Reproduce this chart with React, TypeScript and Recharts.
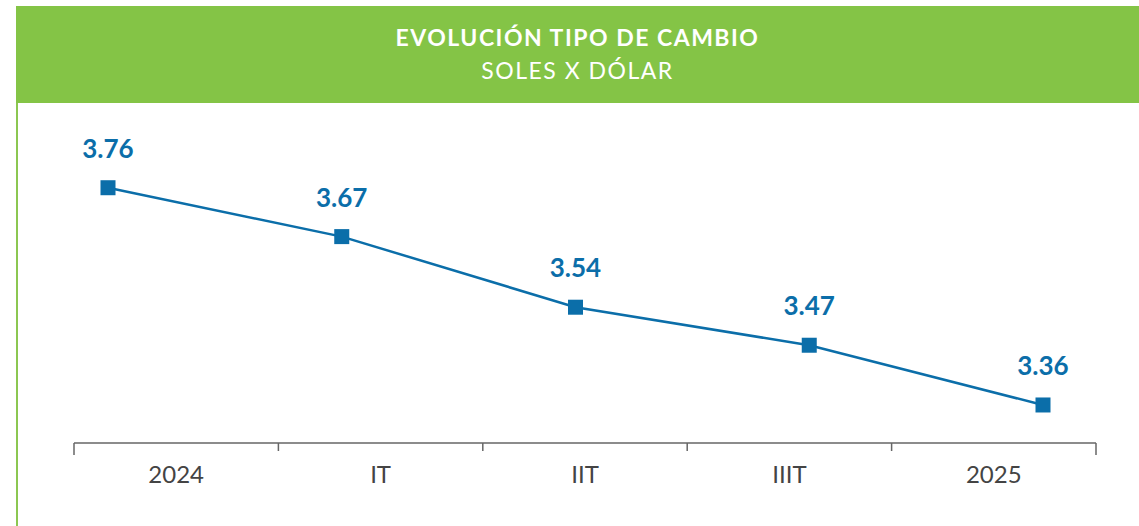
import { LineChart, Line, XAxis, YAxis, LabelList } from "recharts";

const categories = ["2024", "IT", "IIT", "IIIT", "2025"];
const exchangeRate = [3.76, 3.67, 3.54, 3.47, 3.36];
const bandEdges = [0, 1, 2, 3, 4, 5];

const chartData = categories.map((name, i) => ({
  name,
  idx: i,
  rate: exchangeRate[i],
}));

const BLUE = "#0b6ea9";
const GREEN = "#84c446";

const SquareDot = (props: any) => {
  const { cx, cy } = props;
  if (cx == null || cy == null) return null;
  return <rect x={cx - 7.5} y={cy - 7.5} width={15} height={15} fill={BLUE} />;
};

const BandTick = (props: any) => {
  const { x, y, payload, index } = props;
  const isEnd = index === 0 || index === bandEdges.length - 1;
  const label = categories[payload.value];
  // band width in px
  const bandW = props.width / (bandEdges.length - 1);
  return (
    <g>
      <line x1={x} y1={y - 8} x2={x} y2={y - 8 + (isEnd ? 12 : 8)} stroke="#666" strokeWidth={1.5} />
      {label && (
        <text
          x={x + bandW / 2}
          y={y + 32}
          textAnchor="middle"
          fill="#444"
          fontSize={24}
          fontFamily="Lato, sans-serif"
        >
          {label}
        </text>
      )}
    </g>
  );
};

const App = () => {
  return (
    <div
      style={{
        position: "absolute",
        left: 0,
        top: 0,
        width: 1139,
        height: 526,
        background: "#fff",
        overflow: "hidden",
        fontFamily: "Lato, sans-serif",
      }}
    >
      <div
        style={{
          position: "absolute",
          left: 16,
          top: 6,
          width: 1123,
          height: 97,
          background: GREEN,
          color: "#fff",
          textAlign: "center",
        }}
      >
        <div style={{ marginTop: 18, fontSize: 23, fontWeight: 700, lineHeight: "26px", letterSpacing: 1.5 }}>
          EVOLUCIÓN TIPO DE CAMBIO
        </div>
        <div style={{ marginTop: 7, fontSize: 23, fontWeight: 400, lineHeight: "26px", letterSpacing: 1.5 }}>
          SOLES X DÓLAR
        </div>
      </div>
      <div
        style={{
          position: "absolute",
          left: 16,
          top: 103,
          width: 2,
          height: 423,
          background: "#8cc751",
        }}
      />
      <div style={{ position: "absolute", left: 0, top: 0 }}>
        <LineChart
          width={1139}
          height={526}
          data={chartData}
          margin={{ top: 166, right: 43, bottom: 0, left: 74 }}
        >
          <XAxis
            xAxisId="band"
            type="number"
            dataKey="idx"
            domain={[0, 5]}
            ticks={bandEdges}
            allowDataOverflow
            interval={0}
            axisLine={{ stroke: "#666", strokeWidth: 1.5 }}
            tickLine={false}
            tick={<BandTick />}
            height={83}
          />
          <XAxis
            xAxisId="pts"
            type="number"
            dataKey="idx"
            domain={[0, 4]}
            padding={{ left: 34, right: 53 }}
            hide
          />
          <YAxis domain={[3.29, 3.8]} hide allowDataOverflow />
          <Line
            xAxisId="pts"
            dataKey="rate"
            stroke={BLUE}
            strokeWidth={2.5}
            type="linear"
            dot={<SquareDot />}
            activeDot={false}
            isAnimationActive={false}
          >
            <LabelList
              dataKey="rate"
              position="top"
              offset={30}
              fill={BLUE}
              fontSize={26}
              fontWeight={700}
              fontFamily="Lato, sans-serif"
              formatter={(v: any) => Number(v).toFixed(2)}
            />
          </Line>
        </LineChart>
      </div>
    </div>
  );
};

export default App;
